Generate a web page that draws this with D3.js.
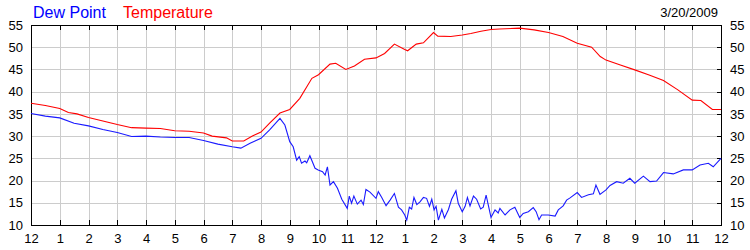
<!DOCTYPE html>
<html>
<head>
<meta charset="utf-8">
<script src="https://cdn.jsdelivr.net/npm/d3@7/dist/d3.min.js"></script>
<style>
  body { margin: 0; background: #fff; }
  svg { display: block; font-family: Arial, "Liberation Sans", sans-serif; }
</style>
</head>
<body>
<div id="chart"></div>
<script>
// hour labels along x (midnight to midnight)
const hourLabels = ['12','1','2','3','4','5','6','7','8','9','10','11','12','1','2','3','4','5','6','7','8','9','10','11','12'];
const yTicks = [10, 15, 20, 25, 30, 35, 40, 45, 50, 55];
const dateLabel = '3/20/2009';

// temperature readings: hour of day, value
const tempHours = [0, 0.5, 1, 1.3, 1.6, 2, 2.5, 3, 3.5, 4, 4.5, 5, 5.5, 6, 6.3, 6.8, 7, 7.4, 7.7, 8, 8.3, 8.66, 9, 9.35, 9.77, 10, 10.4, 10.6, 10.95, 11.25, 11.6, 12, 12.3, 12.64, 13, 13.1, 13.4, 13.65, 14, 14.15, 14.6, 15, 15.3, 15.65, 16, 16.3, 17, 17.5, 18, 18.5, 19, 19.5, 19.8, 20, 20.5, 21, 21.5, 22, 22.5, 23, 23.3, 23.7, 24];
const tempValues = [37.4, 36.9, 36.2, 35.3, 35.0, 34.2, 33.4, 32.6, 31.9, 31.8, 31.7, 31.2, 31.1, 30.7, 30.0, 29.6, 28.9, 28.9, 30.0, 30.9, 32.9, 35.2, 36.0, 38.5, 43.0, 43.8, 46.2, 46.4, 45.0, 45.8, 47.3, 47.6, 48.6, 50.7, 49.5, 49.2, 50.7, 51.0, 53.3, 52.5, 52.4, 52.75, 53.1, 53.6, 54.0, 54.1, 54.3, 53.9, 53.3, 52.4, 50.9, 50.0, 47.9, 47.1, 46.0, 44.9, 43.75, 42.5, 40.4, 38.1, 38.0, 36.0, 36.0];

// dew point readings: hour of day, value
const dewHours = [0, 0.5, 1, 1.5, 2, 2.5, 3, 3.5, 4, 4.5, 5, 5.5, 6, 6.5, 7, 7.3, 7.62, 8, 8.3, 8.66, 8.83, 9.0, 9.12, 9.24, 9.33, 9.41, 9.53, 9.59, 9.70, 9.88, 9.99, 10.14, 10.23, 10.31, 10.40, 10.52, 10.66, 10.81, 11.0, 11.07, 11.15, 11.23, 11.35, 11.48, 11.56, 11.65, 11.79, 12.0, 12.08, 12.2, 12.35, 12.49, 12.64, 12.78, 12.89, 13.0, 13.07, 13.16, 13.24, 13.32, 13.42, 13.53, 13.65, 13.76, 13.86, 13.94, 14.02, 14.09, 14.17, 14.29, 14.38, 14.52, 14.63, 14.78, 14.86, 15.0, 15.1, 15.18, 15.27, 15.39, 15.5, 15.64, 15.73, 15.83, 16.0, 16.14, 16.25, 16.31, 16.49, 16.66, 16.83, 17.0, 17.12, 17.3, 17.47, 17.57, 17.67, 17.76, 17.99, 18.23, 18.34, 18.51, 18.63, 18.75, 19.0, 19.15, 19.39, 19.56, 19.65, 19.79, 20.0, 20.14, 20.37, 20.6, 20.83, 21.0, 21.3, 21.53, 21.76, 22.0, 22.34, 22.69, 23.0, 23.27, 23.56, 23.73, 24.0];
const dewValues = [35.1, 34.5, 34.1, 32.9, 32.3, 31.5, 30.8, 29.9, 30.0, 29.8, 29.7, 29.7, 29.0, 28.2, 27.6, 27.3, 28.4, 29.5, 31.4, 34.0, 32.5, 28.75, 27.6, 24.6, 25.4, 23.9, 24.4, 24.0, 25.6, 22.75, 22.4, 22.0, 21.25, 23.1, 19.0, 19.75, 18.25, 15.8, 13.75, 16.5, 14.9, 16.5, 14.7, 15.6, 14.6, 18.0, 17.4, 16.0, 17.5, 16.2, 14.35, 15.6, 17.1, 14.0, 13.4, 12.25, 11.1, 14.0, 13.6, 16.2, 14.6, 15.2, 16.2, 16.0, 14.2, 15.8, 13.4, 14.2, 11.1, 13.5, 11.6, 13.5, 15.8, 17.7, 14.9, 13.0, 14.2, 16.2, 14.3, 16.5, 15.8, 13.6, 14.0, 16.7, 11.7, 13.4, 12.7, 13.75, 12.25, 13.4, 14.0, 11.7, 12.6, 13.0, 13.9, 13.0, 11.2, 12.25, 12.25, 12.0, 13.4, 14.3, 15.6, 16.1, 17.3, 16.2, 16.8, 17.0, 19.0, 16.9, 17.9, 18.9, 19.75, 19.4, 20.5, 19.4, 21.0, 19.75, 19.9, 21.8, 21.5, 22.4, 22.4, 23.5, 23.9, 23.1, 25.0];

const width = 750, height = 250;
const margin = { top: 25, right: 29, bottom: 25, left: 31 };

const svg = d3.select('#chart')
  .append('svg')
  .attr('width', width)
  .attr('height', height);

const x = d3.scaleLinear().domain([0, 24]).range([margin.left, width - margin.right]);
const y = d3.scaleLinear().domain([10, 55]).range([height - margin.bottom, margin.top]);
const hours = d3.range(0, 25);

// grid
const grid = svg.append('g').attr('shape-rendering', 'crispEdges').attr('stroke', '#cccccc');
grid.selectAll('line.v')
  .data(hours.slice(1, -1))
  .enter().append('line')
  .attr('x1', d => Math.round(x(d)) + 0.5).attr('x2', d => Math.round(x(d)) + 0.5)
  .attr('y1', y(10)).attr('y2', y(55));
grid.selectAll('line.h')
  .data(yTicks.slice(1, -1))
  .enter().append('line')
  .attr('y1', d => Math.round(y(d)) + 0.5).attr('y2', d => Math.round(y(d)) + 0.5)
  .attr('x1', x(0)).attr('x2', x(24));

// axes
const fmtHour = i => hourLabels[i];
const axisBottomG = svg.append('g')
  .attr('transform', `translate(0,${y(10)})`)
  .call(d3.axisBottom(x).tickValues(hours).tickFormat(fmtHour).tickSizeInner(-5).tickSizeOuter(0).tickPadding(9));
const axisTopG = svg.append('g')
  .attr('transform', `translate(0,${y(55)})`)
  .call(d3.axisTop(x).tickValues(hours).tickFormat('').tickSizeInner(-5).tickSizeOuter(0));
const axisLeftG = svg.append('g')
  .attr('transform', `translate(${x(0)},0)`)
  .call(d3.axisLeft(y).tickValues(yTicks).tickSizeInner(0).tickSizeOuter(0).tickPadding(8));
const axisRightG = svg.append('g')
  .attr('transform', `translate(${x(24)},0)`)
  .call(d3.axisRight(y).tickValues(yTicks).tickSizeInner(-4).tickSizeOuter(0).tickPadding(9));

[axisBottomG, axisTopG, axisLeftG, axisRightG].forEach(g => {
  g.attr('shape-rendering', 'crispEdges');
  g.selectAll('.domain, line').attr('stroke', '#000');
  g.selectAll('text').attr('font-size', 13).attr('font-family', 'Arial, "Liberation Sans", sans-serif').attr('fill', '#000');
});

// series
const line = (hs, vs) => d3.line()
  .x((d, i) => x(hs[i]))
  .y(d => y(d))(vs);

svg.append('path')
  .attr('d', line(tempHours, tempValues))
  .attr('fill', 'none')
  .attr('stroke', '#ff0000')
  .attr('stroke-width', 1.1);

svg.append('path')
  .attr('d', line(dewHours, dewValues))
  .attr('fill', 'none')
  .attr('stroke', '#1a1aff')
  .attr('stroke-width', 1.1);

// legend and date
svg.append('text').attr('x', 33).attr('y', 18).attr('font-size', 16).attr('fill', '#0000ff').text('Dew Point');
svg.append('text').attr('x', 123).attr('y', 18).attr('font-size', 16).attr('fill', '#ff0000').text('Temperature');
svg.append('text').attr('x', 718).attr('y', 17).attr('font-size', 13).attr('text-anchor', 'end').attr('fill', '#000').text(dateLabel);
</script>
</body>
</html>
